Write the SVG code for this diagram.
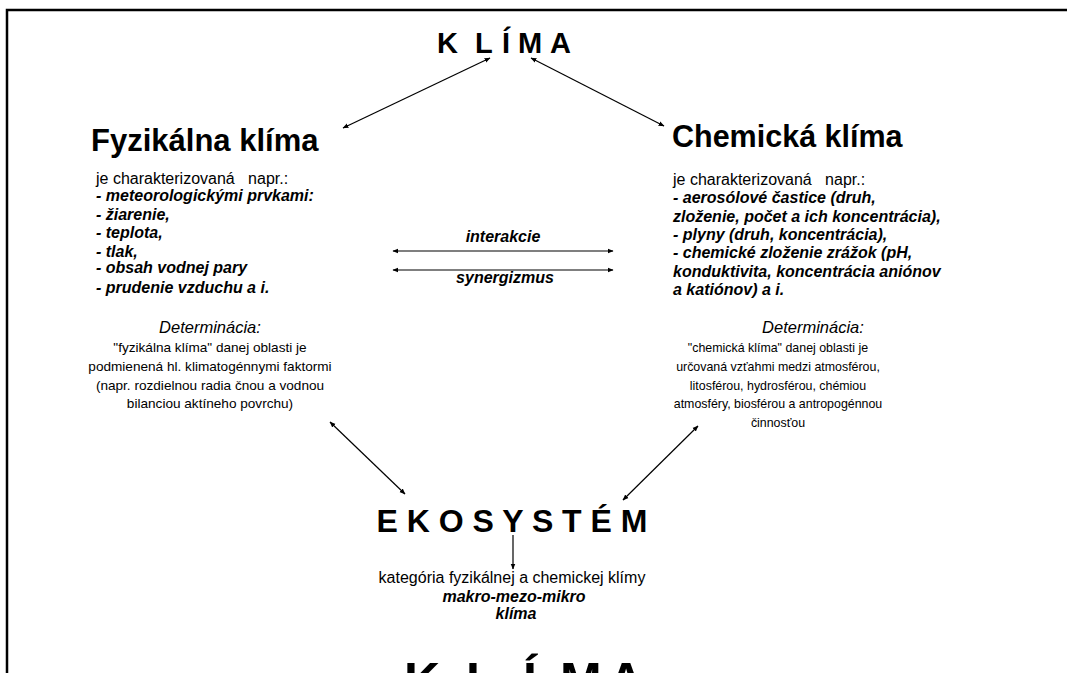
<svg xmlns="http://www.w3.org/2000/svg" width="1067" height="673" viewBox="0 0 1067 673">
<style>
text{font-family:"Liberation Sans",Arial,sans-serif;fill:#000}
.h{font-weight:bold}
.bi{font-weight:bold;font-style:italic;font-size:16px}
.r{font-size:16px}
.it{font-style:italic;font-size:16.5px}
.dl{font-size:13.6px}
.dr{font-size:12.4px}
.c{text-anchor:middle}
.ln{stroke:#000;stroke-width:1.2;fill:none}
</style>
<defs>
<marker id="ah" viewBox="0 0 10 10" refX="9" refY="5" markerWidth="6" markerHeight="6" orient="auto-start-reverse" markerUnits="userSpaceOnUse">
<path d="M0,1 L10,5 L0,9 z" fill="#000"/>
</marker>
</defs>
<rect width="1067" height="673" fill="#fff"/>
<path d="M7,673 V10 H1067" fill="none" stroke="#000" stroke-width="2.5"/>

<g id="klima">
<text class="h" font-size="29" y="53" x="437 475 502 518 550">KLÍMA</text>
</g>

<g id="fyzikalna">
<text class="h" font-size="31" x="91" y="151">Fyzikálna klíma</text>
<text class="r" x="96" y="184" xml:space="preserve">je charakterizovaná   napr.:</text>
<text class="bi" x="96" y="201">- meteorologickými prvkami:</text>
<text class="bi" x="96" y="220">- žiarenie,</text>
<text class="bi" x="96" y="238">- teplota,</text>
<text class="bi" x="96" y="257">- tlak,</text>
<text class="bi" x="96" y="273">- obsah vodnej pary</text>
<text class="bi" x="96" y="293">- prudenie vzduchu a i.</text>
<text class="it c" x="210" y="333">Determinácia:</text>
<text class="dl c" x="210" y="352">"fyzikálna klíma" danej oblasti je</text>
<text class="dl c" x="210" y="371">podmienená hl. klimatogénnymi faktormi</text>
<text class="dl c" x="210" y="390">(napr. rozdielnou radia čnou a vodnou</text>
<text class="dl c" x="210" y="408">bilanciou aktíneho povrchu)</text>
</g>

<g id="chemicka">
<text class="h" font-size="30.5" x="672" y="147">Chemická klíma</text>
<text class="r" x="673" y="185" xml:space="preserve">je charakterizovaná   napr.:</text>
<text class="bi" x="673" y="203" font-size="16.3">- aerosólové častice (druh,</text>
<text class="bi" x="673" y="222" font-size="16.3">zloženie, počet a ich koncentrácia),</text>
<text class="bi" x="673" y="240" font-size="16.3">- plyny (druh, koncentrácia),</text>
<text class="bi" x="673" y="258" font-size="16.3">- chemické zloženie zrážok (pH,</text>
<text class="bi" x="673" y="277" font-size="16.3">konduktivita, koncentrácia aniónov</text>
<text class="bi" x="673" y="295" font-size="16.3">a katiónov) a i.</text>
<text class="it c" x="813" y="333" font-size="16">Determinácia:</text>
<text class="dr c" x="778" y="352">"chemická klíma" danej oblasti je</text>
<text class="dr c" x="778" y="371">určovaná vzťahmi medzi atmosférou,</text>
<text class="dr c" x="778" y="390">litosférou, hydrosférou, chémiou</text>
<text class="dr c" x="778" y="408">atmosféry, biosférou a antropogénnou</text>
<text class="dr c" x="778" y="427">činnosťou</text>
</g>

<g id="interakcie">
<text class="bi c" x="503" y="242">interakcie</text>
<text class="bi c" x="505" y="283">synergizmus</text>
</g>

<g id="ekosystem">
<text class="h c" font-size="32" x="512" y="532">E K O S Y S T É M</text>
</g>

<g id="kategoria">
<text class="r c" x="512" y="583" font-size="16.2">kategória fyzikálnej a chemickej klímy</text>
<text class="bi c" x="514" y="602">makro-mezo-mikro</text>
<text class="bi c" x="516" y="619">klíma</text>
</g>

<g id="klima2">
<text class="h" font-size="50" y="698" x="404 466 523 560 608">KLÍMA</text>
</g>

<g id="connectors" class="ln">
<line x1="490" y1="58" x2="343" y2="128" marker-start="url(#ah)" marker-end="url(#ah)"/>
<line x1="531" y1="58" x2="664" y2="126" marker-start="url(#ah)" marker-end="url(#ah)"/>
<line x1="393" y1="251" x2="613" y2="251" marker-start="url(#ah)" marker-end="url(#ah)"/>
<line x1="393" y1="270" x2="613" y2="270" marker-start="url(#ah)" marker-end="url(#ah)"/>
<line x1="330" y1="422" x2="405" y2="494" marker-start="url(#ah)" marker-end="url(#ah)"/>
<line x1="698" y1="426" x2="623" y2="500" marker-start="url(#ah)" marker-end="url(#ah)"/>
<line x1="513" y1="535" x2="513" y2="569" marker-end="url(#ah)"/>
</g>
</svg>
